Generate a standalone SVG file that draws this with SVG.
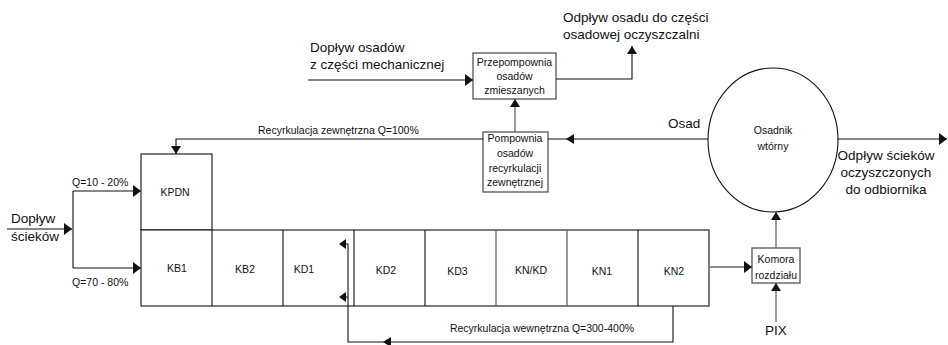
<svg xmlns="http://www.w3.org/2000/svg" width="948" height="345" viewBox="0 0 948 345">
<style>
.l{fill:none;stroke:#111;stroke-width:1.1}
.g{fill:none;stroke:#666;stroke-width:1.3}
.b{fill:#fff;stroke:#111;stroke-width:1.1}
.bg{fill:#fff;stroke:#555;stroke-width:1.3}
.h{fill:#111;stroke:none}
text{font-family:"Liberation Sans",Arial,sans-serif;fill:#111}
.s{font-size:10.5px}
.m{font-size:13.5px}
.c{text-anchor:middle}
</style>
<defs>
<marker id="a" markerUnits="userSpaceOnUse" markerWidth="9" markerHeight="12" refX="8" refY="6" orient="auto" viewBox="0 0 9 12">
<path d="M0,0 L8,6 L0,12 z" fill="#111"/>
</marker>
<marker id="as" markerUnits="userSpaceOnUse" markerWidth="8" markerHeight="10" refX="8" refY="5" orient="auto" viewBox="0 0 8 10">
<path d="M0,0 L8,5 L0,10 z" fill="#111"/>
</marker>
</defs>

<g id="tank">
<rect class="b" x="141" y="154" width="71" height="76"/>
<rect class="b" x="141" y="230" width="568" height="76"/>
<path class="l" d="M212,230 V306 M283,230 V306 M354,230 V306 M425,230 V306 M638,230 V306"/>
<path class="g" d="M496,230 V306 M567,230 V306"/>
</g>
<g id="KPDN"><text class="s c" x="175" y="196">KPDN</text></g>
<g id="KB1"><text class="s c" x="177" y="271.5">KB1</text></g>
<g id="KB2"><text class="s c" x="245" y="273">KB2</text></g>
<g id="KD1"><text class="s c" x="304" y="273">KD1</text></g>
<g id="KD2"><text class="s c" x="386" y="274">KD2</text></g>
<g id="KD3"><text class="s c" x="457.5" y="274.5">KD3</text></g>
<g id="KNKD"><text class="s c" x="531" y="274">KN/KD</text></g>
<g id="KN1"><text class="s c" x="602" y="275">KN1</text></g>
<g id="KN2"><text class="s c" x="674" y="275">KN2</text></g>

<g id="przepompownia">
<rect class="bg" x="473" y="53" width="83" height="46"/>
<text class="s c" x="514.5" y="65.5">Przepompownia</text>
<text class="s c" x="514.5" y="80">osadów</text>
<text class="s c" x="514.5" y="94">zmieszanych</text>
</g>

<g id="pompownia">
<rect class="bg" x="483" y="132" width="65" height="60"/>
<text class="s c" x="515" y="141.7">Pompownia</text>
<text class="s c" x="515" y="156.7">osadów</text>
<text class="s c" x="515" y="171.7">recyrkulacji</text>
<text class="s c" x="515" y="186.4">zewnętrznej</text>
</g>

<g id="osadnik">
<ellipse class="b" cx="773" cy="140" rx="65" ry="72"/>
<text class="s c" x="773" y="134">Osadnik</text>
<text class="s c" x="773" y="150">wtórny</text>
</g>

<g id="komora">
<rect class="bg" x="752" y="248" width="48" height="35"/>
<text class="s c" x="776" y="263">Komora</text>
<text class="s c" x="776" y="278.5">rozdziału</text>
</g>

<g id="connectors">
<path class="l" d="M7,229 H72" marker-end="url(#a)"/>
<path class="l" d="M73,191 V268"/>
<path class="l" d="M73,191 H141" marker-end="url(#a)"/>
<path class="l" d="M73,268 H141" marker-end="url(#a)"/>
<path class="l" d="M483,139 H176 V154" marker-end="url(#as)"/>
<path class="l" d="M708,139 H548"/>
<polygon class="h" points="566,139 574,134 574,144"/>
<path class="g" d="M515,132 V99" marker-end="url(#as)"/>
<path class="l" d="M308,80 H473" marker-end="url(#a)"/>
<path class="l" d="M556,79 H632 V46" marker-end="url(#as)"/>
<path class="l" d="M838,139 H947" marker-end="url(#a)"/>
<path class="g" d="M710,267 H752" marker-end="url(#a)"/>
<path class="g" d="M776,248 V212" marker-end="url(#as)"/>
<path class="g" d="M776,322 V283" marker-end="url(#as)"/>
<path class="l" d="M673,306 V342 H348 V244 H344"/>
<path class="l" d="M348,297 H344"/>
<polygon class="h" points="339,244 346,239 346,249"/>
<polygon class="h" points="339,297 346,292 346,302"/>
<polygon class="h" points="383,342 391,337 391,347"/>
</g>

<g id="labels">
<text class="m" x="11" y="223">Dopływ</text>
<text class="m" x="11" y="241">ścieków</text>
<text class="s" x="72" y="186">Q=10 - 20%</text>
<text class="s" x="72" y="286">Q=70 - 80%</text>
<text class="s" x="258" y="134">Recyrkulacja zewnętrzna Q=100%</text>
<text class="s c" x="542" y="332">Recyrkulacja wewnętrzna Q=300-400%</text>
<text class="m" x="310" y="51.5">Dopływ osadów</text>
<text class="m" x="310" y="68.5">z części mechanicznej</text>
<text class="m" x="563" y="22">Odpływ osadu do części</text>
<text class="m" x="563" y="39">osadowej oczyszczalni</text>
<text class="m" x="668" y="128">Osad</text>
<text class="m c" x="886" y="160">Odpływ ścieków</text>
<text class="m c" x="886" y="177">oczyszczonych</text>
<text class="m c" x="886" y="194">do odbiornika</text>
<text class="m c" x="776" y="335">PIX</text>
</g>
</svg>
